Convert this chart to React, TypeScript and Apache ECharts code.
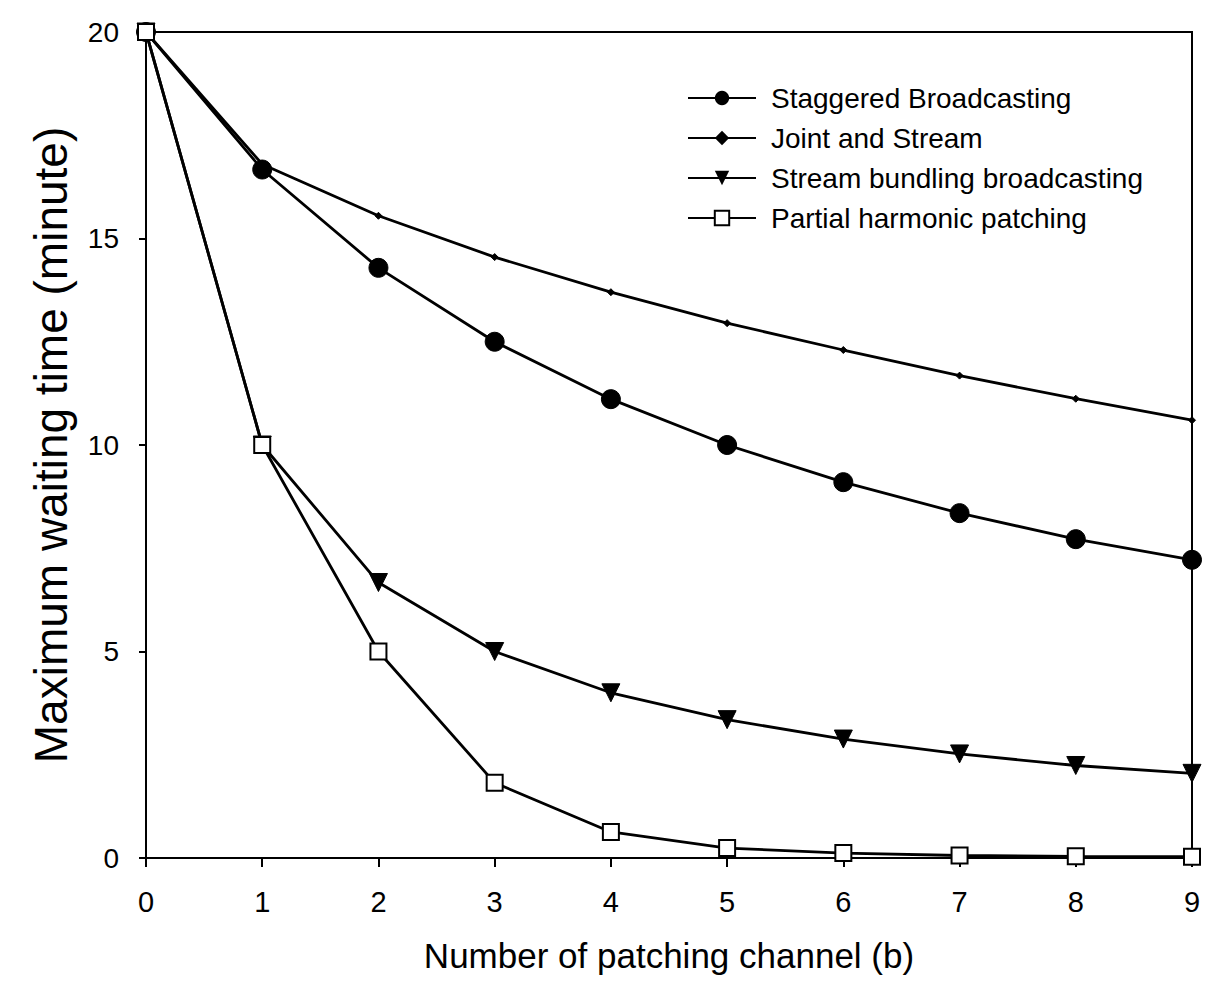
import React, { useEffect, useRef } from "react";
import * as echarts from "echarts";

const channels = [0, 1, 2, 3, 4, 5, 6, 7, 8, 9];
const staggered = [20, 16.67, 14.29, 12.5, 11.11, 10, 9.1, 8.35, 7.72, 7.22];
const jointStream = [20, 16.8, 15.55, 14.55, 13.7, 12.95, 12.3, 11.68, 11.12, 10.6];
const bundling = [20, 10, 6.67, 5, 4, 3.35, 2.88, 2.52, 2.24, 2.05];
const harmonic = [20, 10, 5, 1.82, 0.63, 0.24, 0.12, 0.06, 0.04, 0.03];
const yTicks = [0, 5, 10, 15, 20];

const seriesNames = [
  "Staggered Broadcasting",
  "Joint and Stream",
  "Stream bundling broadcasting",
  "Partial harmonic patching",
];

const FONT = "'Liberation Sans', Arial, sans-serif";

export default function App() {
  const ref = useRef<HTMLDivElement>(null);
  useEffect(() => {
    if (!ref.current) return;
    const chart = echarts.init(ref.current, undefined, { renderer: "svg" });
    const toPairs = (arr: number[]) => channels.map((c, i) => [c, arr[i]]);
    const lineStyle = { color: "#000", width: 2.8 };
    chart.setOption({
      animation: false,
      backgroundColor: "#fff",
      textStyle: { fontFamily: FONT, color: "#000" },
      grid: {
        left: 146,
        right: 19,
        top: 32,
        bottom: 145,
        show: true,
        borderColor: "#000",
        borderWidth: 2,
      },
      legend: {
        orient: "vertical",
        left: 682,
        top: 79,
        itemWidth: 68,
        itemHeight: 18,
        itemGap: 12,
        textStyle: {
          fontFamily: FONT,
          fontSize: 28,
          color: "#000",
          lineHeight: 28,
          padding: [0, 0, 0, 10],
        },
        data: seriesNames,
      },
      xAxis: {
        type: "value",
        min: 0,
        max: 9,
        interval: 1,
        name: "Number of patching channel (b)",
        nameLocation: "middle",
        nameGap: 80,
        nameTextStyle: { fontFamily: FONT, fontSize: 35, color: "#000" },
        axisLine: { show: true, lineStyle: { color: "#000", width: 2 } },
        axisTick: { show: true, inside: false, length: 9, lineStyle: { color: "#000", width: 2 } },
        axisLabel: { fontFamily: FONT, fontSize: 29, color: "#000", margin: 29 },
        splitLine: { show: false },
      },
      yAxis: {
        type: "value",
        min: yTicks[0],
        max: yTicks[yTicks.length - 1],
        interval: 5,
        name: "Maximum waiting time (minute)",
        nameLocation: "middle",
        nameGap: 72,
        nameTextStyle: { fontFamily: FONT, fontSize: 46, color: "#000" },
        axisLine: { show: true, lineStyle: { color: "#000", width: 2 } },
        axisTick: { show: true, inside: false, length: 7, lineStyle: { color: "#000", width: 2 } },
        axisLabel: { fontFamily: FONT, fontSize: 28, color: "#000", margin: 27 },
        splitLine: { show: false },
      },
      series: [
        {
          name: seriesNames[0],
          type: "line",
          data: toPairs(staggered),
          symbol: "circle",
          symbolSize: 19,
          itemStyle: { color: "#000", borderColor: "#000" },
          lineStyle,
          z: 2,
        },
        {
          name: seriesNames[1],
          type: "line",
          data: toPairs(jointStream),
          symbol: "diamond",
          symbolSize: 7,
          itemStyle: { color: "#000", borderColor: "#000" },
          lineStyle,
          z: 3,
        },
        {
          name: seriesNames[2],
          type: "line",
          data: toPairs(bundling),
          symbol: "triangle",
          symbolRotate: 180,
          symbolSize: 18,
          itemStyle: { color: "#000", borderColor: "#000" },
          lineStyle,
          z: 4,
        },
        {
          name: seriesNames[3],
          type: "line",
          data: toPairs(harmonic),
          symbol: "rect",
          symbolSize: 16,
          itemStyle: { color: "#fff", borderColor: "#000", borderWidth: 2 },
          lineStyle,
          z: 5,
        },
      ],
    });
    return () => chart.dispose();
  }, []);
  return <div ref={ref} style={{ width: 1211, height: 1003, position: "absolute", left: 0, top: 0 }} />;
}
